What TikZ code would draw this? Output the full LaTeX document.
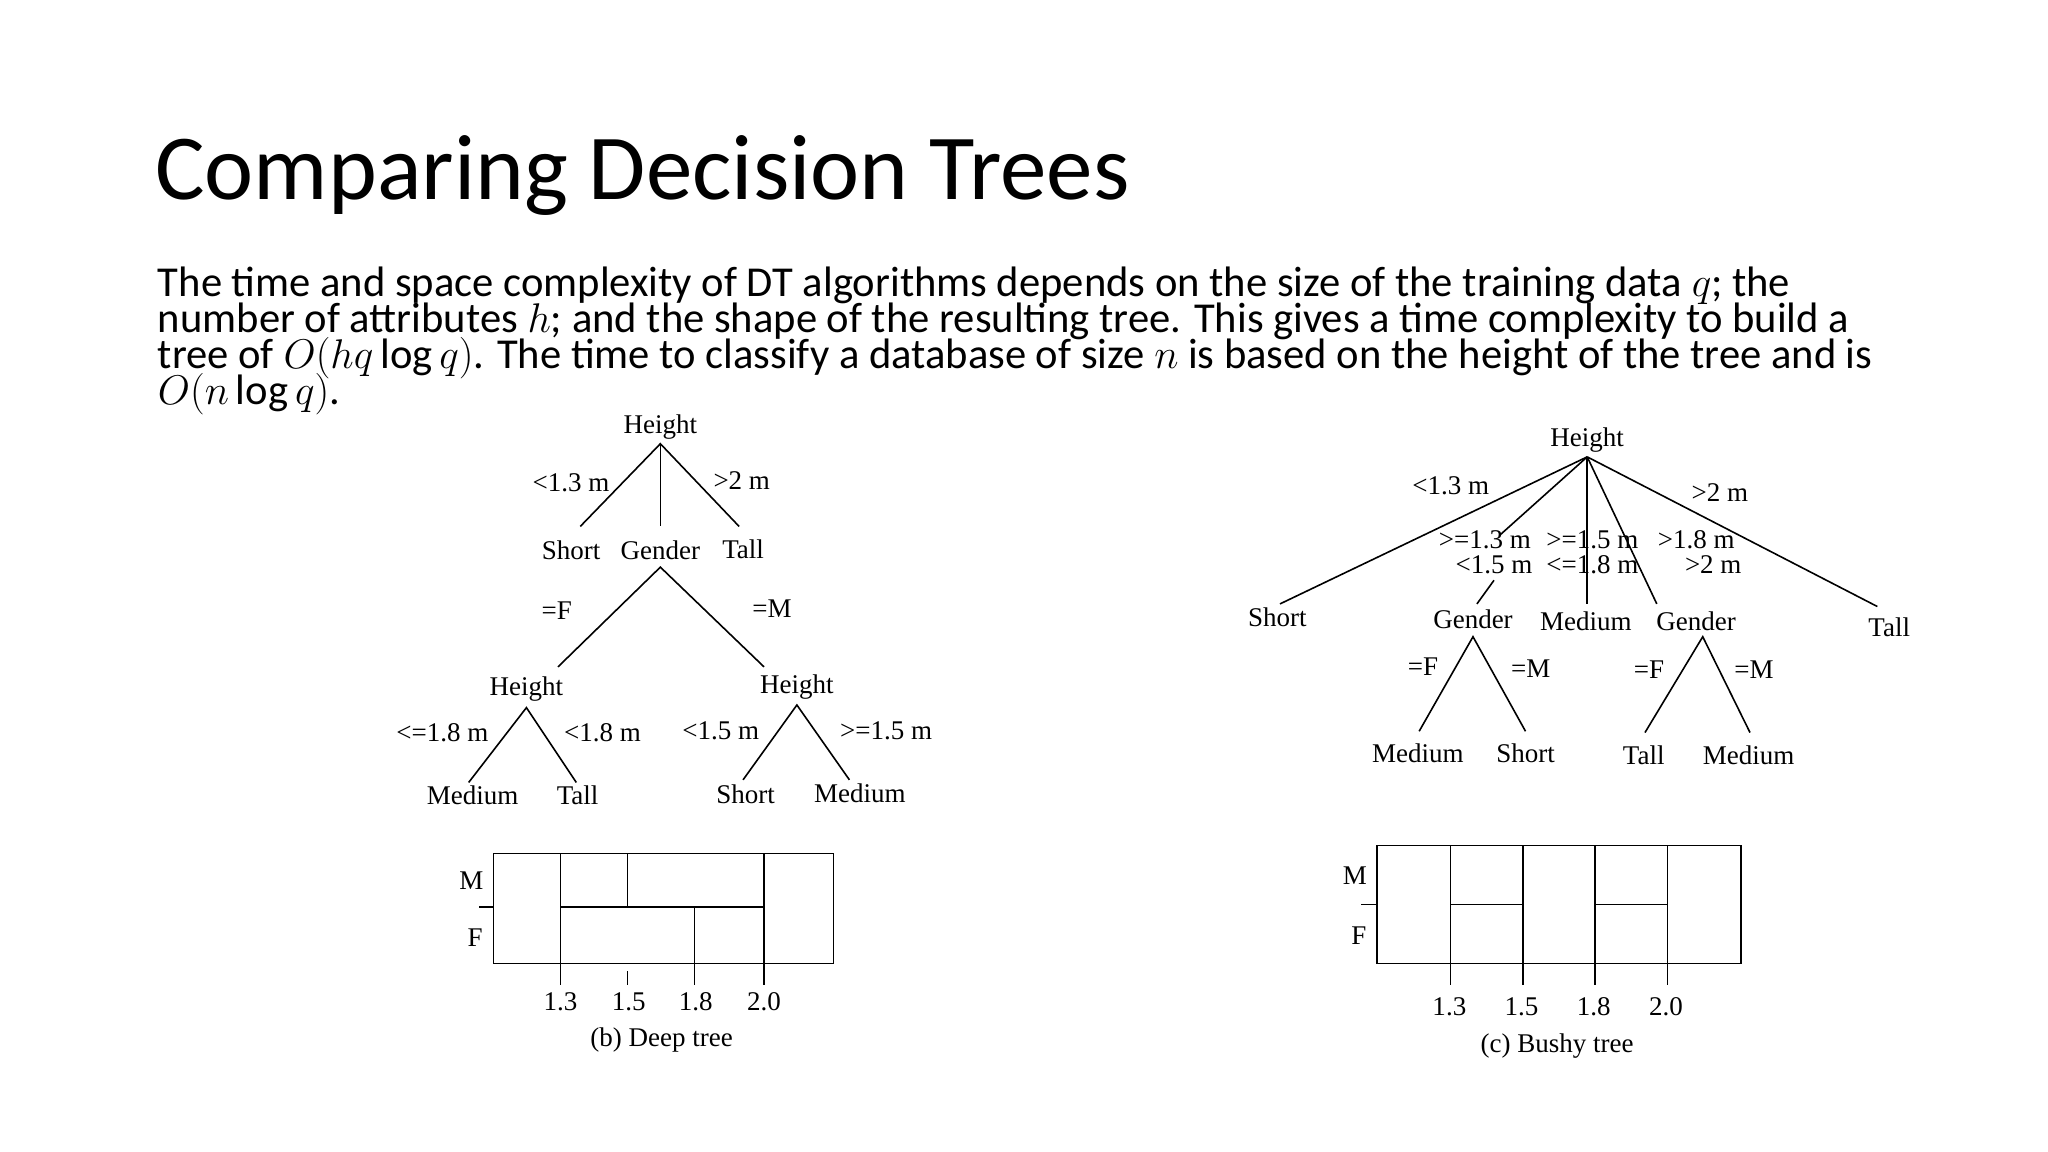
\documentclass[tikz,border=0pt]{standalone}
\usepackage{fontspec}
\setmainfont{Carlito}
\newfontfamily\tms{Liberation Serif}
\begin{document}
\begin{tikzpicture}[x=0.6564pt,y=-0.6564pt,
  t/.style={font=\tms\fontsize{13.5}{13.5}\selectfont, inner sep=1pt},
  ln/.style={line width=0.8pt},
  body/.style={anchor=base west, inner sep=0pt, font=\fontsize{21.3}{21.3}\selectfont}]
\useasboundingbox (0,0) rectangle (1560,877.5);
\node[anchor=base west, inner sep=0pt, font=\fontsize{46.5}{46.5}\selectfont] (title) at (118,152) {Comparing Decision Trees};
\node[body] (l1) at (120,226) {The time and space complexity of DT algorithms depends on the size of the training data $q$; the};
\node[body] (l2) at (120,253) {number of attributes $h$; and the shape of the resulting tree. This gives a time complexity to build a};
\node[body] (l3) at (120,281) {tree of $O(hq\log q)$. The time to classify a database of size $n$ is based on the height of the tree and is};
\node[body] (l4) at (120,308) {$O(n\log q)$.};
% left tree
\node[t] (h) at (503,325) {Height};
\node[t] (s1) at (435,419) {Short};
\node[t] (g) at (503,419) {Gender};
\node[t] (ta1) at (566,418) {Tall};
\coordinate (hb) at (503,338);
\coordinate (e1) at (442,401); \coordinate (e2) at (503,401); \coordinate (e3) at (563,401);
\draw[ln] (e1) -- (hb) -- (e3); \draw[ln] (hb) -- (e2);
\node[t] at (435,368) {<1.3 m};
\node[t] at (565,366) {>2 m};
\coordinate (gb) at (503,432); \coordinate (f1) at (425,508); \coordinate (f2) at (582,508);
\draw[ln] (f1) -- (gb) -- (f2);
\node[t] at (424,465) {=F};
\node[t] at (588,464) {=M};
\node[t] (hl) at (401,525) {Height};
\node[t] (hr) at (607,523) {Height};
\coordinate (hlb) at (401,539); \coordinate (hrb) at (607,537);
\draw[ln] (357,596) -- (hlb) -- (439,596);
\draw[ln] (566,594) -- (hrb) -- (647,594);
\node[t] at (337,558) {<=1.8 m};
\node[t] at (459,558) {<1.8 m};
\node[t] at (549,557) {<1.5 m};
\node[t] at (675,557) {>=1.5 m};
\node[t] (m1) at (360,606) {Medium};
\node[t] (t2) at (440,606) {Tall};
\node[t] (s2) at (568,605) {Short};
\node[t] (m2) at (655,604) {Medium};
% left box
\draw[ln] (376,650) rectangle (635,734);
\draw[ln] (427,650) -- (427,750);
\draw[ln] (582,650) -- (582,750);
\draw[ln] (478,650) -- (478,691);
\draw[ln] (478,740) -- (478,750);
\draw[ln] (529,691) -- (529,750);
\draw[ln] (427,691) -- (582,691);
\draw[ln] (365,691) -- (376,691);
\node[t] at (359,671) {M};
\node[t] at (362,714) {F};
\node[t] at (427,763) {1.3};
\node[t] at (479,763) {1.5};
\node[t] at (530,763) {1.8};
\node[t] at (582,763) {2.0};
\node[t] at (504,792) {(b) Deep tree};
% right tree
\node[t] (H) at (1209,335) {Height};
\coordinate (Hb) at (1209,348);
\draw[ln] (Hb) -- (975,460);
\draw[ln] (Hb) -- (1142,408);
\draw[ln] (1138,442) -- (1125,460);
\draw[ln] (Hb) -- (1209,460);
\draw[ln] (Hb) -- (1262,460);
\draw[ln] (Hb) -- (1430,462);
\node[t] at (1105,370) {<1.3 m};
\node[t] at (1310,375) {>2 m};
\node[t] at (1131,411) {>=1.3 m};
\node[t] at (1138,430) {<1.5 m};
\node[t] at (1213,411) {>=1.5 m};
\node[t] at (1213,430) {<=1.8 m};
\node[t] at (1292,411) {>1.8 m};
\node[t] at (1305,430) {>2 m};
\node[t] (S) at (973,470) {Short};
\node[t] (G1) at (1122,472) {Gender};
\node[t] (M) at (1208,473) {Medium};
\node[t] (G2) at (1292,473) {Gender};
\node[t] (T) at (1439,478) {Tall};
\draw[ln] (1081,557) -- (1122,485) -- (1162,557);
\draw[ln] (1253,558) -- (1297,485) -- (1333,558);
\node[t] at (1084,508) {=F};
\node[t] at (1166,509) {=M};
\node[t] at (1256,510) {=F};
\node[t] at (1336,510) {=M};
\node[t] at (1080,574) {Medium};
\node[t] at (1162,574) {Short};
\node[t] at (1252,575) {Tall};
\node[t] at (1332,575) {Medium};
% right box
\draw[ln] (1049,644) rectangle (1326,734);
\foreach \xx in {1105,1160,1215,1270} \draw[ln] (\xx,644) -- (\xx,750);
\draw[ln] (1105,689) -- (1160,689);
\draw[ln] (1215,689) -- (1270,689);
\draw[ln] (1037,689) -- (1049,689);
\node[t] at (1032,667) {M};
\node[t] at (1035,713) {F};
\node[t] at (1104,767) {1.3};
\node[t] at (1159,767) {1.5};
\node[t] at (1214,767) {1.8};
\node[t] at (1269,767) {2.0};
\node[t] at (1186,797) {(c) Bushy tree};
\end{tikzpicture}
\end{document}
